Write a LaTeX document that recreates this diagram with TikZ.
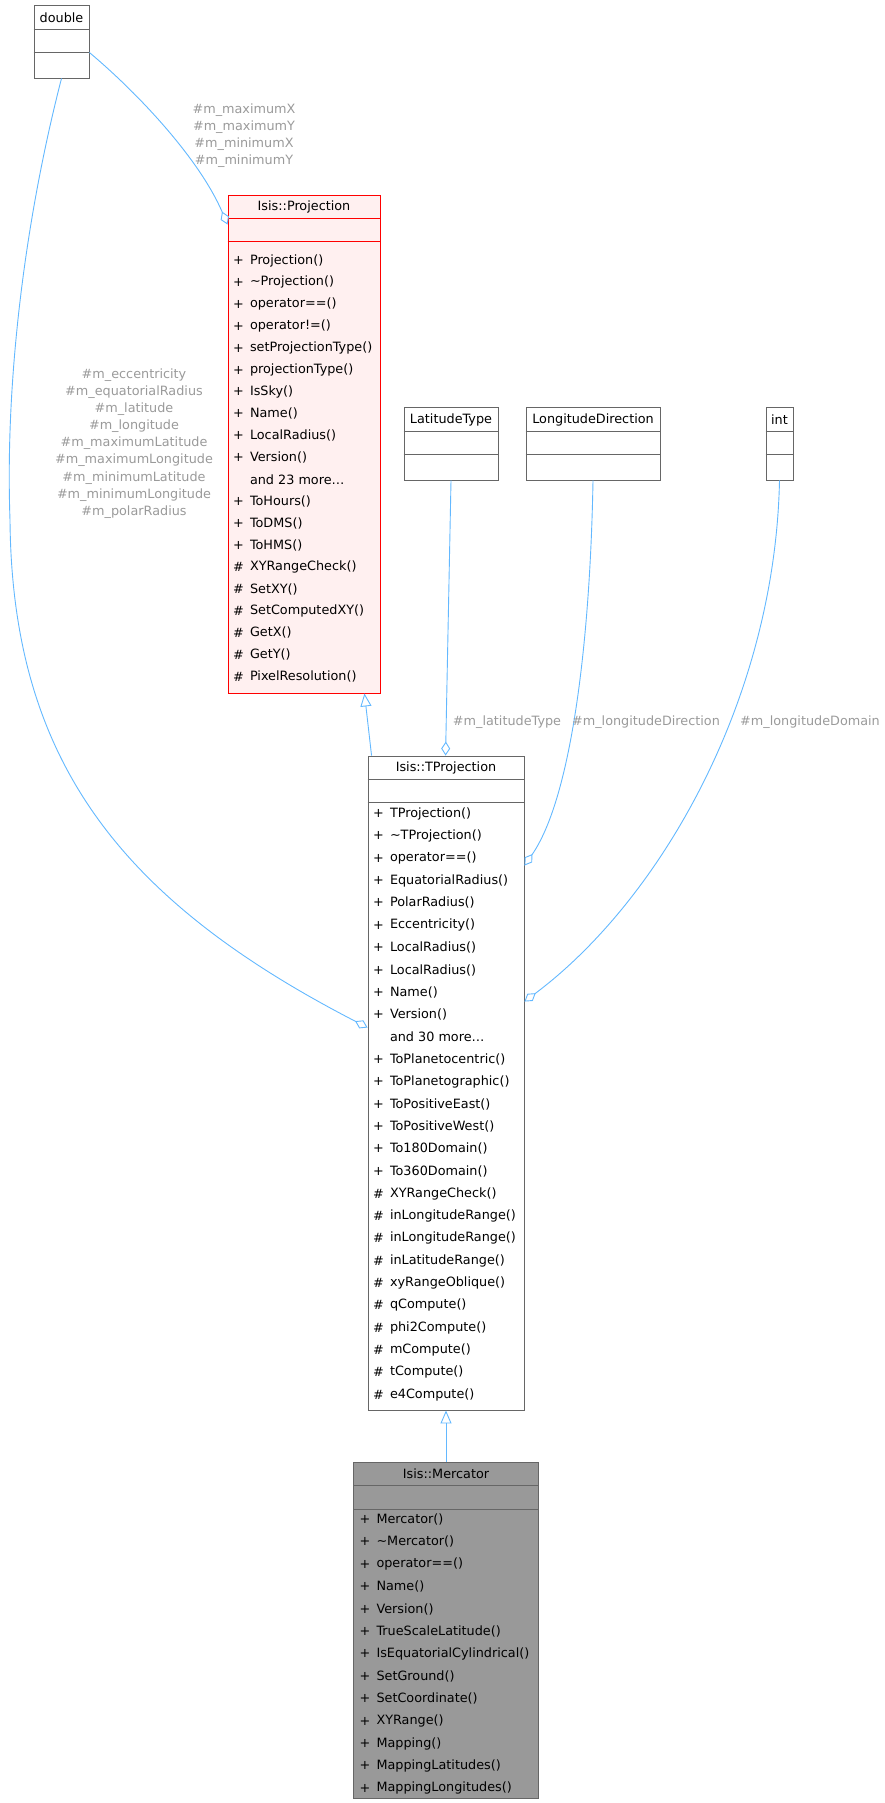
\documentclass[tikz,border=0pt]{standalone}
\usepackage{fontspec}
\setmainfont{DejaVu Sans}
\usepackage{tikz}
\usetikzlibrary{arrows.meta,calc}
\definecolor{edgeblue}{HTML}{63B8FF}
\definecolor{labelgray}{HTML}{9A9A9A}
\definecolor{boxgray}{HTML}{666666}
\definecolor{projfill}{HTML}{FFF0F0}
\definecolor{mercfill}{HTML}{999999}
\tikzset{every path/.style={line width=0.9pt}}
\tikzset{
  classbox/.style={draw=boxgray, line width=0.9pt, inner sep=0pt},
  member/.style={anchor=west, inner sep=0pt, font=\fontsize{12.8}{15}\selectfont},
  title/.style={inner sep=0pt, font=\fontsize{12.8}{15}\selectfont},
  edgelabel/.style={text=labelgray, align=center, inner sep=0pt, font=\fontsize{12.8}{17.1}\selectfont},
  assoc/.style={draw=edgeblue, -{Diamond[open,length=14pt,width=9pt]}},
  inherit/.style={draw=edgeblue, -{Triangle[open,length=13pt,width=11pt]}}
}

\begin{document}
\begin{tikzpicture}[x=1pt,y=-1pt]
\useasboundingbox (0,0) rectangle (884,1803);

% plain types
\node[classbox, minimum width=55pt, minimum height=73pt] (dbl) at (61.5,41.5) {};
\node[classbox, minimum width=94pt, minimum height=73pt] (lat) at (451,443.5) {};
\node[classbox, minimum width=134pt, minimum height=73pt] (lon) at (593,443.5) {};
\node[classbox, minimum width=27pt, minimum height=73pt] (int) at (779.5,443.5) {};
\foreach \b in {dbl,lat,lon,int} {
  \draw[boxgray] ($(\b.north west)+(0,25)$) -- ($(\b.north east)+(0,25)$);
  \draw[boxgray] ($(\b.north west)+(0,48)$) -- ($(\b.north east)+(0,48)$);
}
\node[title] (dbl-title) at ($(dbl.north)+(0,13)$) {double};
\node[title] (lat-title) at ($(lat.north)+(0,13)$) {LatitudeType};
\node[title] (lon-title) at ($(lon.north)+(0,13)$) {LongitudeDirection};
\node[title] (int-title) at ($(int.north)+(0,13)$) {int};

% Isis::Projection
\node[classbox, draw=red, fill=projfill, minimum width=152pt, minimum height=498pt] (proj) at (304,444) {};
\draw[red] ($(proj.north west)+(0,24)$) -- ($(proj.north east)+(0,24)$);
\draw[red] ($(proj.north west)+(0,47)$) -- ($(proj.north east)+(0,47)$);
\node[title] (proj-title) at ($(proj.north)+(0,12)$) {Isis::Projection};
\foreach \sym/\name [count=\i from 0] in {+/Projection(), +/\textasciitilde Projection(),
  +/operator==(), +/operator!=(), +/setProjectionType(), +/projectionType(), +/IsSky(),
  +/Name(), +/LocalRadius(), +/Version(), {}/{and 23 more\ldots}, +/ToHours(), +/ToDMS(),
  +/ToHMS(), \#/XYRangeCheck(), \#/SetXY(), \#/SetComputedXY(), \#/GetX(), \#/GetY(),
  \#/PixelResolution()} {
  \node[member] (proj-sym-\i) at ($(proj.north west)+(5,66+21.9*\i)$) {\sym};
  \node[member] (proj-name-\i) at ($(proj.north west)+(22,66+21.9*\i)$) {\name};
}

% Isis::TProjection
\node[classbox, fill=white, minimum width=156pt, minimum height=654pt] (tproj) at (446,1083) {};
\draw[boxgray] ($(tproj.north west)+(0,24)$) -- ($(tproj.north east)+(0,24)$);
\draw[boxgray] ($(tproj.north west)+(0,47)$) -- ($(tproj.north east)+(0,47)$);
\node[title] (tproj-title) at ($(tproj.north)+(0,12)$) {Isis::TProjection};
\foreach \sym/\name [count=\i from 0] in {+/TProjection(), +/\textasciitilde TProjection(),
  +/operator==(), +/EquatorialRadius(), +/PolarRadius(), +/Eccentricity(), +/LocalRadius(),
  +/LocalRadius(), +/Name(), +/Version(), {}/{and 30 more\ldots}, +/ToPlanetocentric(),
  +/ToPlanetographic(), +/ToPositiveEast(), +/ToPositiveWest(), +/To180Domain(),
  +/To360Domain(), \#/XYRangeCheck(), \#/inLongitudeRange(), \#/inLongitudeRange(),
  \#/inLatitudeRange(), \#/xyRangeOblique(), \#/qCompute(), \#/phi2Compute(),
  \#/mCompute(), \#/tCompute(), \#/e4Compute()} {
  \node[member] (tproj-sym-\i) at ($(tproj.north west)+(5,58+22.35*\i)$) {\sym};
  \node[member] (tproj-name-\i) at ($(tproj.north west)+(22,58+22.35*\i)$) {\name};
}

% Isis::Mercator
\node[classbox, fill=mercfill, minimum width=185pt, minimum height=336pt] (merc) at (446,1630) {};
\draw[boxgray] ($(merc.north west)+(0,24)$) -- ($(merc.north east)+(0,24)$);
\draw[boxgray] ($(merc.north west)+(0,48)$) -- ($(merc.north east)+(0,48)$);
\node[title] (merc-title) at ($(merc.north)+(0,12)$) {Isis::Mercator};
\foreach \sym/\name [count=\i from 0] in {+/Mercator(), +/\textasciitilde Mercator(),
  +/operator==(), +/Name(), +/Version(), +/TrueScaleLatitude(), +/IsEquatorialCylindrical(),
  +/SetGround(), +/SetCoordinate(), +/XYRange(), +/Mapping(), +/MappingLatitudes(),
  +/MappingLongitudes()} {
  \node[member] (merc-sym-\i) at ($(merc.north west)+(6,58+22.4*\i)$) {\sym};
  \node[member] (merc-name-\i) at ($(merc.north west)+(23,58+22.4*\i)$) {\name};
}

% connectors
\draw[assoc] ($(dbl.north east)+(0,48)$) .. controls (140,95) and (200,160) .. ($(proj.north west)+(0,30)$);
\draw[assoc] (dbl.south) .. controls (25,220) and (5,380) .. (10,520)
  .. controls (12,760) and (120,900) .. ($(tproj.north west)+(0,272)$);
\draw[inherit] ($(tproj.north west)+(4,0)$) -- ($(proj.south east)+(-16,0)$);
\draw[assoc] (lat.south) -- ($(tproj.north west)+(78,0)$);
\draw[assoc] (lon.south) .. controls (590,650) and (570,800) .. ($(tproj.north east)+(0,110)$);
\draw[assoc] (int.south) .. controls (775,700) and (660,900) .. ($(tproj.north east)+(0,246)$);
\draw[inherit] (merc.north) -- (tproj.south);

% labels
\node[edgelabel] (lbl-max) at (244,135.5) {\#m\_maximumX\\\#m\_maximumY\\\#m\_minimumX\\\#m\_minimumY};
\node[edgelabel] (lbl-ecc) at (134,443.5) {\#m\_eccentricity\\\#m\_equatorialRadius\\\#m\_latitude\\\#m\_longitude\\\#m\_maximumLatitude\\\#m\_maximumLongitude\\\#m\_minimumLatitude\\\#m\_minimumLongitude\\\#m\_polarRadius};
\node[edgelabel] (lbl-lat) at (507,722) {\#m\_latitudeType};
\node[edgelabel] (lbl-lon) at (646,722) {\#m\_longitudeDirection};
\node[edgelabel] (lbl-dom) at (810,722) {\#m\_longitudeDomain};
\end{tikzpicture}
\end{document}
